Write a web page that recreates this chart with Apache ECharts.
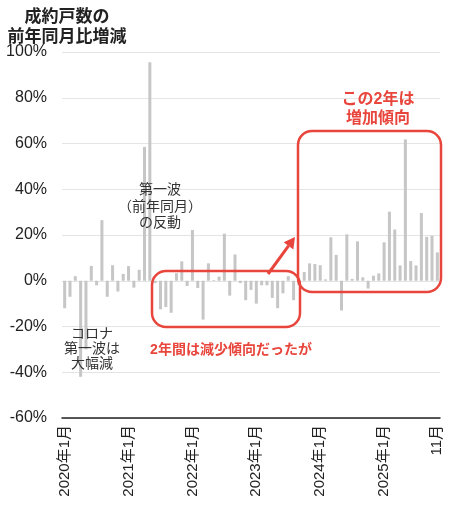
<!DOCTYPE html>
<html>
<head>
<meta charset="utf-8">
<script src="https://cdn.jsdelivr.net/npm/echarts@6/dist/echarts.min.js"></script>
<style>
  html, body { margin: 0; padding: 0; background: #fff; }
  #chart { width: 450px; height: 506px; }
</style>
</head>
<body>
<div id="chart"></div>
<script>
// 成約戸数の前年同月比増減（2020年1月〜2025年11月）
var startYear = 2020;
var monthCount = 71;
// 前年同月比（%）
var yoyValues = [
  -12, -7, 2, -42, -30, 6.5, -2, 26.5, -7, 6.8, -4.7, 3,
  6.4, -3, 4.8, 58.5, 95.5, -1, -12.5, -11.5, -14, 3.3, 8.5, -2.3,
  22.2, -3.2, -17, 7.6, 0.3, 1.8, 20.6, -6.5, 11.5, -1, -8.5, -4,
  -10, -2, -2, -7.5, -12, -5.5, 2, -8.5, -2, 3.8, 7.6, 7.3,
  6.8, 0.6, 19, 11.3, -13, 20.3, 0.8, 17.2, 1.5, -3.4, 2.2, 3.2,
  16.8, 30.2, 22.4, 6.7, 61.8, 8.6, 6.7, 29.6, 19.2, 19.7, 12.4
];
var yMin = -60, yMax = 100, yStep = 20;

var months = [];
for (var i = 0; i < monthCount; i++) {
  months.push((startYear + Math.floor(i / 12)) + '年' + (i % 12 + 1) + '月');
}

var RED = '#e8453c';
var FONT = '"Liberation Sans", "Noto Sans CJK JP", sans-serif';

(function () {
  var myChart = echarts.init(document.getElementById('chart'));

  // 矢印の頭
  var tip = [295, 237], tail = [268, 274];
  var dx = tip[0] - tail[0], dy = tip[1] - tail[1];
  var len = Math.sqrt(dx * dx + dy * dy);
  var ux = dx / len, uy = dy / len;
  var bx = tip[0] - ux * 11, by = tip[1] - uy * 11;
  var px = -uy, py = ux;

  var option = {
    animation: false,
    textStyle: { fontFamily: FONT },
    grid: { left: 62, right: 10, top: 52, bottom: 88 },
    xAxis: {
      type: 'category',
      data: months,
      axisLine: { onZero: false, lineStyle: { color: '#222', width: 1.5 } },
      axisTick: { show: false },
      axisLabel: {
        rotate: 90,
        margin: 7,
        fontSize: 15,
        color: '#222',
        fontFamily: FONT,
        interval: function (index) {
          return index % 12 === 0 || index === monthCount - 1;
        },
        formatter: function (value, index) {
          return index === monthCount - 1 ? value.replace(/^\d+年/, '') : value;
        }
      }
    },
    yAxis: {
      type: 'value',
      min: yMin,
      max: yMax,
      interval: yStep,
      axisLine: { show: false },
      axisTick: { show: false },
      axisLabel: {
        formatter: '{value}%',
        fontSize: 16,
        color: '#222',
        margin: 15,
        fontFamily: FONT
      },
      splitLine: { lineStyle: { color: '#e4e4e4', width: 1 } }
    },
    series: [
      {
        type: 'bar',
        data: yoyValues,
        barWidth: 3,
        itemStyle: { color: '#c6c6c6' }
      }
    ],
    graphic: [
      {
        type: 'text', x: 67, y: 7, z: 100,
        style: {
          text: '成約戸数の\n前年同月比増減',
          align: 'center', verticalAlign: 'top',
          font: 'bold 17px ' + FONT, lineHeight: 20, fill: '#222'
        }
      },
      {
        type: 'text', x: 160, y: 182, z: 100,
        style: {
          text: '第一波\n（前年同月）\nの反動',
          align: 'center', verticalAlign: 'top',
          font: '14px ' + FONT, lineHeight: 16.5, fill: '#333'
        }
      },
      {
        type: 'text', x: 92, y: 327, z: 100,
        style: {
          text: 'コロナ\n第一波は\n大幅減',
          align: 'center', verticalAlign: 'top',
          font: '14px ' + FONT, lineHeight: 15, fill: '#333'
        }
      },
      {
        type: 'text', x: 231, y: 350, z: 100,
        style: {
          text: '2年間は減少傾向だったが',
          align: 'center', verticalAlign: 'middle',
          font: 'bold 14px ' + FONT, fill: RED
        }
      },
      {
        type: 'text', x: 378, y: 90, z: 100,
        style: {
          text: 'この2年は\n増加傾向',
          align: 'center', verticalAlign: 'top',
          font: 'bold 16px ' + FONT, lineHeight: 19, fill: RED
        }
      },
      {
        type: 'rect', z: 100,
        shape: { x: 152, y: 271, width: 148, height: 56, r: 14 },
        style: { fill: 'none', stroke: RED, lineWidth: 2.5 }
      },
      {
        type: 'rect', z: 100,
        shape: { x: 298, y: 131, width: 143, height: 161, r: 14 },
        style: { fill: 'none', stroke: RED, lineWidth: 2.5 }
      },
      {
        type: 'line', z: 100,
        shape: { x1: tail[0], y1: tail[1], x2: bx, y2: by },
        style: { stroke: RED, lineWidth: 3 }
      },
      {
        type: 'polygon', z: 100,
        shape: {
          points: [
            tip,
            [bx + px * 6, by + py * 6],
            [bx - px * 6, by - py * 6]
          ]
        },
        style: { fill: RED }
      }
    ]
  };

  myChart.setOption(option);
})();
</script>
</body>
</html>
